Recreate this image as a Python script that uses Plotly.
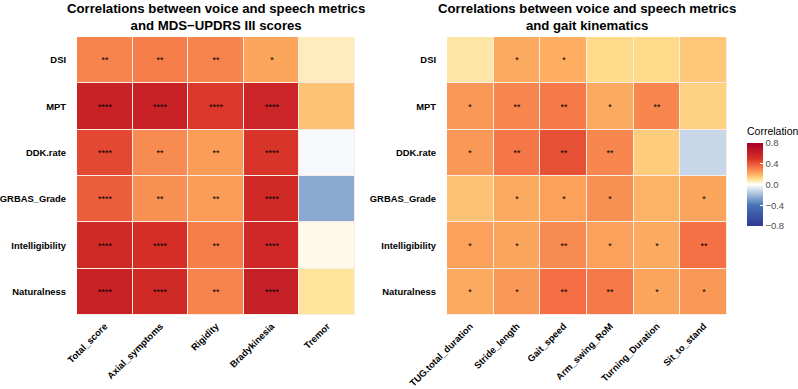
import plotly.graph_objects as go

rows = ["DSI", "MPT", "DDK.rate", "GRBAS_Grade", "Intelligibility", "Naturalness"]

updrs_cols = ["Total_score", "Axial_symptoms", "Rigidity", "Bradykinesia", "Tremor"]
updrs_r = [
    [0.30, 0.31, 0.30, 0.22, 0.06],
    [0.59, 0.59, 0.48, 0.57, 0.16],
    [0.44, 0.28, 0.24, 0.49, -0.02],
    [0.39, 0.27, 0.24, 0.54, -0.25],
    [0.54, 0.51, 0.31, 0.55, 0.02],
    [0.59, 0.54, 0.30, 0.60, 0.09],
]
updrs_sig = [
    ["**", "**", "**", "*", ""],
    ["****", "****", "****", "****", ""],
    ["****", "**", "**", "****", ""],
    ["****", "**", "**", "****", ""],
    ["****", "****", "**", "****", ""],
    ["****", "****", "**", "****", ""],
]

gait_cols = ["TUG.total_duration", "Stride_length", "Gait_speed", "Arm_swing_RoM",
             "Turning_Duration", "Sit_to_stand"]
gait_r = [
    [0.08, 0.21, 0.20, 0.11, 0.11, 0.15],
    [0.25, 0.29, 0.32, 0.21, 0.29, 0.13],
    [0.25, 0.33, 0.42, 0.29, 0.14, -0.12],
    [0.16, 0.21, 0.23, 0.27, 0.19, 0.22],
    [0.23, 0.22, 0.28, 0.23, 0.21, 0.34],
    [0.21, 0.25, 0.35, 0.32, 0.22, 0.25],
]
gait_sig = [
    ["", "*", "*", "", "", ""],
    ["*", "**", "**", "*", "**", ""],
    ["*", "**", "**", "**", "", ""],
    ["", "*", "*", "*", "", "*"],
    ["*", "*", "**", "*", "*", "**"],
    ["*", "*", "**", "**", "*", "*"],
]

titles = ["Correlations between voice and speech metrics<br>and MDS\u2212UPDRS III scores",
          "Correlations between voice and speech metrics<br>and gait kinematics"]
colorbar_title = "Correlation"
colorbar_ticks = [-0.8, -0.4, 0.0, 0.4, 0.8]

W, H = 798, 389
FONT = "Liberation Sans, Arial, Helvetica, sans-serif"

colorscale = [
    [0.0, "#313695"],
    [0.25, "#4575B4"],
    [0.5, "#FFFFFF"],
    [0.5625, "#FEE090"],
    [0.625, "#FDAE61"],
    [0.71875, "#F46D43"],
    [0.8125, "#D73027"],
    [1.0, "#A50026"],
]

def px_x(p):
    return p / W

def px_y(p):
    return 1 - p / H

fig = go.Figure()

fig.add_trace(go.Heatmap(
    z=updrs_r, x=updrs_cols, y=rows, text=updrs_sig, texttemplate="%{text}",
    textfont=dict(size=9, color="black", family=FONT),
    coloraxis="coloraxis", xgap=1, ygap=1, xaxis="x", yaxis="y", hoverinfo="skip"))
fig.add_trace(go.Heatmap(
    z=gait_r, x=gait_cols, y=rows, text=gait_sig, texttemplate="%{text}",
    textfont=dict(size=9, color="black", family=FONT),
    coloraxis="coloraxis", xgap=1, ygap=1, xaxis="x2", yaxis="y2", hoverinfo="skip"))

axis_common = dict(showgrid=False, zeroline=False, showline=False, ticks="",
                   tickfont=dict(size=9.4, color="black", family=FONT, weight="bold"),
                   type="category", automargin=False)

fig.update_layout(
    width=W, height=H,
    margin=dict(l=0, r=0, t=0, b=0, autoexpand=False),
    paper_bgcolor="white", plot_bgcolor="#F8ECE6",
    font=dict(family=FONT, color="black"),
    xaxis=dict(domain=[px_x(77), px_x(355)], anchor="y", tickangle=-45,
               ticklabelstandoff=3, **axis_common),
    yaxis=dict(domain=[px_y(315), px_y(37)], anchor="x", autorange="reversed",
               ticklabelstandoff=10, **axis_common),
    xaxis2=dict(domain=[px_x(447), px_x(727)], anchor="y2", tickangle=-45,
                ticklabelstandoff=3, **axis_common),
    yaxis2=dict(domain=[px_y(315), px_y(37)], anchor="x2", autorange="reversed",
                ticklabelstandoff=10, **axis_common),
    coloraxis=dict(
        cmin=-0.8, cmax=0.8, colorscale=colorscale,
        colorbar=dict(
            x=px_x(747), xanchor="left", y=px_y(143), yanchor="top",
            lenmode="pixels", len=83, thicknessmode="pixels", thickness=16,
            outlinewidth=0, ticks="inside", tickcolor="white", ticklen=3,
            tickvals=colorbar_ticks, tickformat=".1f",
            tickfont=dict(size=9.5, color="#4D4D4D", family=FONT),
            xpad=0, ypad=0,
        ),
    ),
)

for t, cx in zip(titles, [216, 587]):
    fig.add_annotation(text="<b>" + t + "</b>", x=px_x(cx), y=1.0, xref="paper", yref="paper",
                       xanchor="center", yanchor="top", showarrow=False,
                       font=dict(size=13.2, color="black", family=FONT), borderpad=0)

fig.add_annotation(text=colorbar_title, x=px_x(746), y=px_y(131), xref="paper", yref="paper",
                   xanchor="left", yanchor="middle", showarrow=False,
                   font=dict(size=10.5, color="black", family=FONT), borderpad=0)

fig.write_html("out.html", config={"displayModeBar": False},
               post_script="document.body.style.margin='0px';")
